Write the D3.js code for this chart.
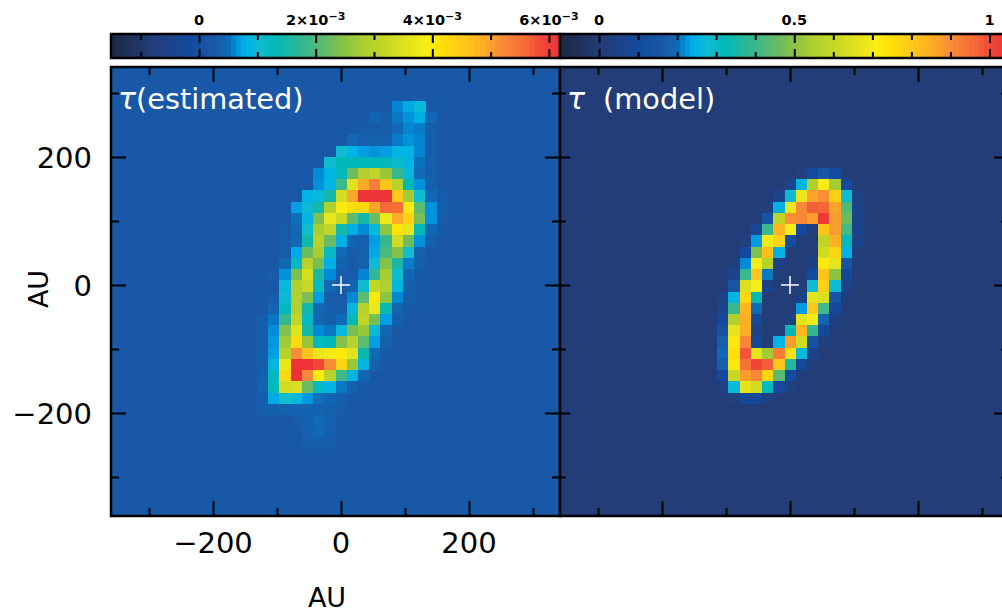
<!DOCTYPE html>
<html>
<head>
<meta charset="utf-8">
<script src="https://cdn.jsdelivr.net/npm/d3@7"></script>
<style>
body { margin: 0; background: #fff; }
svg { display: block; }
text { font-family: "DejaVu Sans", sans-serif; }
.cell { shape-rendering: crispEdges; }
.axis path { display: none; }
.axis line { stroke: #000; stroke-width: 2; }
.big { font-size: 29px; fill: #000; }
.bar-label { font-size: 14.5px; font-weight: bold; fill: #000; }
.title { font-size: 28.8px; fill: #fff; }
</style>
</head>
<body>
<svg id="chart" width="1002" height="614"></svg>
<script>
// tick marks in AU
const majorTicks = [-200, 0, 200];
const minorTicks = [-300, -100, 100, 300];

// tau (estimated), units of 1e-3. first row and first column of every row listed below
const estBackground = 0.18;
const estFirstRow = 3;
const estStartCol = [25, 23, 22, 21, 20, 19, 18, 18, 17, 16, 16, 15, 15, 15, 15, 14, 15, 14, 14, 13, 13, 13, 13, 13, 13, 13, 13, 13, 16, 17, 17];
const estRows = [
  [0.55, 0.7, 0.9],
  [0.35, 0.28, 0.5, 0.6, 0.75, 0.42],
  [0.25, 0.25, 0.27, 0.45, 0.55, 0.52, 0.28],
  [0.4, 0.3, 0.3, 0.3, 0.52, 0.6, 0.55, 0.28],
  [1.0, 0.8, 0.65, 0.6, 0.65, 0.8, 0.8, 0.55, 0.27],
  [1.0, 1.25, 1.25, 1.25, 1.25, 1.25, 1.1, 0.8, 0.48, 0.27],
  [0.57, 0.8, 1.2, 2.2, 2.85, 3.05, 2.6, 1.75, 0.9, 0.45, 0.27],
  [0.6, 0.8, 1.8, 3.5, 4.85, 5.3, 4.5, 2.95, 1.3, 0.6, 0.3],
  [0.8, 0.9, 1.45, 3.3, 4.9, 6.1, 6.1, 6.1, 4.5, 2.7, 1.0, 0.42, 0.25],
  [0.65, 0.95, 1.45, 2.85, 3.95, 4.2, 4.25, 4.9, 5.55, 5.5, 4.0, 2.05, 0.6, 0.27],
  [0.47, 0.85, 2.35, 3.6, 3.2, 2.05, 1.45, 2.2, 3.7, 4.85, 4.35, 2.3, 0.6, 0.25],
  [0.25, 0.42, 1.0, 2.75, 3.05, 1.45, 0.75, 0.57, 0.9, 2.5, 4.05, 3.6, 1.3, 0.42, 0.22],
  [0.25, 0.44, 1.4, 2.95, 2.15, 0.75, 0.38, 0.3, 0.65, 1.75, 3.3, 2.2, 0.6, 0.3],
  [0.25, 0.7, 2.2, 2.75, 1.15, 0.42, 0.25, 0.3, 0.7, 1.9, 2.4, 1.0, 0.3],
  [0.42, 1.2, 2.95, 2.3, 0.75, 0.32, 0.22, 0.3, 0.95, 2.4, 1.5, 0.52, 0.27],
  [0.25, 0.6, 2.35, 3.4, 1.5, 0.57, 0.25, 0.25, 0.55, 1.7, 2.75, 1.0, 0.38],
  [0.9, 2.85, 3.2, 1.15, 0.42, 0.25, 0.35, 0.95, 3.1, 2.85, 0.85, 0.3],
  [0.27, 0.95, 2.85, 2.35, 0.65, 0.25, 0.23, 0.57, 2.05, 4.0, 2.5, 0.57, 0.27],
  [0.38, 1.2, 2.85, 1.45, 0.42, 0.27, 0.25, 0.85, 2.95, 3.65, 1.35, 0.38, 0.22],
  [0.27, 0.5, 1.75, 3.05, 1.15, 0.4, 0.27, 0.45, 1.3, 3.05, 2.3, 0.65, 0.28],
  [0.27, 0.58, 2.4, 3.5, 1.45, 0.57, 0.5, 0.9, 2.3, 2.6, 0.95, 0.4],
  [0.28, 0.62, 2.7, 4.2, 2.6, 1.2, 1.25, 2.4, 2.95, 2.05, 0.65, 0.3],
  [0.28, 0.65, 2.95, 5.15, 4.55, 3.65, 3.8, 3.95, 3.5, 1.35, 0.45, 0.22],
  [0.28, 0.85, 3.65, 6.15, 6.15, 5.8, 5.15, 4.3, 2.6, 0.85, 0.3],
  [0.33, 1.2, 4.25, 6.15, 5.2, 3.95, 2.95, 1.8, 0.85, 0.38],
  [0.35, 1.25, 3.3, 3.4, 2.15, 1.15, 0.85, 0.5, 0.33, 0.22],
  [0.28, 0.7, 1.0, 0.9, 0.62, 0.47, 0.38, 0.27],
  [0.26, 0.3, 0.34, 0.34, 0.35, 0.36, 0.3, 0.25],
  [0.24, 0.3, 0.45, 0.33],
  [0.33, 0.42, 0.3],
  [0.27, 0.28, 0.24]
];

// tau (model)
const modelBackground = 0;
const modelFirstRow = 9;
const modelStartCol = [21, 20, 19, 18, 18, 17, 16, 16, 15, 15, 15, 14, 14, 14, 14, 14, 14, 14, 14, 14, 15];
const modelRows = [
  [0.02, 0.09, 0.15, 0.1],
  [0.05, 0.245, 0.55, 0.71, 0.53, 0.09],
  [0.05, 0.27, 0.67, 0.86, 0.89, 0.78, 0.27, 0.03],
  [0.02, 0.24, 0.67, 0.9, 0.97, 0.96, 0.86, 0.42, 0.05],
  [0.14, 0.58, 0.89, 0.9, 0.87, 1.03, 0.87, 0.45, 0.05],
  [0.07, 0.39, 0.83, 0.69, 0.09, 0.01, 0.8, 0.87, 0.4, 0.05],
  [0.02, 0.22, 0.69, 0.77, 0.11, 0, 0, 0.58, 0.84, 0.31, 0.04],
  [0.09, 0.48, 0.81, 0.24, 0, 0, 0, 0.62, 0.76, 0.24, 0.01],
  [0.02, 0.21, 0.7, 0.56, 0.03, 0, 0, 0.03, 0.72, 0.66, 0.14],
  [0.05, 0.39, 0.8, 0.2, 0, 0, 0, 0.1, 0.8, 0.5, 0.08],
  [0.14, 0.64, 0.7, 0.04, 0, 0, 0, 0.27, 0.78, 0.27, 0.04],
  [0.03, 0.245, 0.76, 0.32, 0, 0, 0, 0.03, 0.66, 0.64, 0.14, 0.01],
  [0.05, 0.39, 0.83, 0.19, 0, 0, 0, 0.22, 0.8, 0.4, 0.08],
  [0.09, 0.55, 0.84, 0.08, 0, 0, 0.02, 0.66, 0.69, 0.18, 0.03],
  [0.13, 0.66, 0.84, 0.04, 0, 0, 0.32, 0.83, 0.38, 0.08],
  [0.17, 0.72, 0.9, 0.07, 0.01, 0.245, 0.87, 0.62, 0.13, 0.02],
  [0.19, 0.74, 0.98, 0.66, 0.53, 0.92, 0.74, 0.26, 0.04],
  [0.17, 0.72, 0.94, 1.0, 0.97, 0.8, 0.36, 0.08],
  [0.09, 0.6, 0.87, 0.9, 0.77, 0.43, 0.1, 0.01],
  [0.03, 0.26, 0.66, 0.62, 0.3, 0.09, 0.02],
  [0.02, 0.08, 0.08, 0.03]
];

// colorbars
const estBarDomain = [-1.51, 6.19];
const estBarMajor = [0, 2, 4, 6];
const estBarMinor = [-1, 1, 3, 5];
const modelBarDomain = [-0.1, 1.05];
const modelBarMajor = [0, 0.5, 1];
const modelBarMinor = [0.1, 0.2, 0.3, 0.4, 0.6, 0.7, 0.8, 0.9];

const paletteAt = [0, 0.087, 0.17, 0.22, 0.255, 0.27, 0.285, 0.3, 0.325, 0.36, 0.43, 0.48, 0.52, 0.56, 0.61, 0.66, 0.7, 0.73, 0.78, 0.83, 0.87, 0.92, 0.95, 1];
const paletteColors = ["#1c2848", "#233d78", "#134a9f", "#1858a6", "#106ab6", "#008ad6", "#00a8e8", "#00b4e4", "#10bcd0", "#00b8b8", "#3cb88a", "#6cbc60", "#8cc440", "#aecf30", "#c8d824", "#e5e41c", "#f8ee14", "#ffe008", "#ffc818", "#fca828", "#f88838", "#f46838", "#f04838", "#ee3038"];

const palette = d3.scaleLinear().domain(paletteAt).range(paletteColors).clamp(true);

const svg = d3.select("#chart");
const panelW = 449, panelH = 449, panelY = 67;
const nCells = 40;

function drawPanel(left, background, firstRow, startCols, rows, barDomain, leftMajor, leftMinor) {
  const x = d3.scaleLinear().domain([-359.4, 342.2]).range([left, left + panelW]);
  const y = d3.scaleLinear().domain([340.6, -361]).range([panelY, panelY + panelH]);
  const colX = d3.scaleBand().domain(d3.range(nCells)).range([left, left + panelW]);
  const rowY = d3.scaleBand().domain(d3.range(nCells)).range([panelY, panelY + panelH]);
  const color = d3.scaleLinear().domain(barDomain).range([0, 1]);

  svg.append("rect").attr("class", "cell")
    .attr("x", left).attr("y", panelY).attr("width", panelW).attr("height", panelH)
    .attr("fill", palette(color(background)));

  const cells = [];
  rows.forEach((r, i) => r.forEach((v, j) => cells.push({ row: firstRow + i, col: startCols[i] + j, v })));

  svg.append("g").selectAll("rect").data(cells).enter().append("rect")
    .attr("class", "cell")
    .attr("x", d => colX(d.col))
    .attr("y", d => rowY(d.row))
    .attr("width", colX.bandwidth() + 0.5)
    .attr("height", rowY.bandwidth() + 0.5)
    .attr("fill", d => palette(color(d.v)));

  // white cross at the star
  const cross = svg.append("g").attr("stroke", "#fff").attr("stroke-width", 1.5);
  cross.append("line").attr("x1", x(0) - 9).attr("x2", x(0) + 9).attr("y1", y(0)).attr("y2", y(0));
  cross.append("line").attr("x1", x(0)).attr("x2", x(0)).attr("y1", y(0) - 9).attr("y2", y(0) + 9);

  // inward ticks on all four sides
  [[majorTicks, 15, leftMajor], [minorTicks, 8, leftMinor]].forEach(([vals, len, leftLen]) => {
    svg.append("g").attr("class", "axis").attr("transform", `translate(0,${panelY + panelH})`)
      .call(d3.axisBottom(x).tickValues(vals).tickSize(-len).tickFormat(""));
    svg.append("g").attr("class", "axis").attr("transform", `translate(0,${panelY})`)
      .call(d3.axisTop(x).tickValues(vals).tickSize(-len).tickFormat(""));
    svg.append("g").attr("class", "axis").attr("transform", `translate(${left},0)`)
      .call(d3.axisLeft(y).tickValues(vals).tickSize(-leftLen).tickFormat(""));
    svg.append("g").attr("class", "axis").attr("transform", `translate(${left + panelW},0)`)
      .call(d3.axisRight(y).tickValues(vals).tickSize(-len).tickFormat(""));
  });

  svg.append("rect").attr("x", left).attr("y", panelY).attr("width", panelW).attr("height", panelH)
    .attr("fill", "none").attr("stroke", "#000").attr("stroke-width", 2.5);

  return { x, y };
}

function drawBar(left, domain, major, minor) {
  const top = 34, h = 24;
  const x = d3.scaleLinear().domain(domain).range([left, left + panelW]);
  const steps = d3.range(0, 1, 1 / 90);
  svg.append("g").selectAll("rect").data(steps).enter().append("rect")
    .attr("class", "cell")
    .attr("x", d => left + d * panelW)
    .attr("y", top)
    .attr("width", panelW / 90 + 0.5)
    .attr("height", h)
    .attr("fill", d => palette(d));
  [[major, 9], [minor, 6]].forEach(([vals, len]) => {
    svg.append("g").attr("class", "axis").attr("transform", `translate(0,${top})`)
      .call(d3.axisTop(x).tickValues(vals).tickSize(-len).tickFormat(""));
    svg.append("g").attr("class", "axis").attr("transform", `translate(0,${top + h})`)
      .call(d3.axisBottom(x).tickValues(vals).tickSize(-len).tickFormat(""));
  });
  svg.append("rect").attr("x", left).attr("y", top).attr("width", panelW).attr("height", h)
    .attr("fill", "none").attr("stroke", "#000").attr("stroke-width", 2.5);
  return x;
}

function barLabel(x, text, sup) {
  const t = svg.append("text").attr("class", "bar-label").attr("x", x).attr("y", 25).attr("text-anchor", "middle").text(text);
  if (sup) t.append("tspan").attr("dy", -5).style("font-size", "11px").text(sup);
}

const estBarX = drawBar(111, estBarDomain, estBarMajor, estBarMinor);
const modelBarX = drawBar(560, modelBarDomain, modelBarMajor, modelBarMinor);
barLabel(estBarX(0), "0");
barLabel(estBarX(2), "2×10", "−3");
barLabel(estBarX(4), "4×10", "−3");
barLabel(estBarX(6), "6×10", "−3");
modelBarMajor.forEach(v => barLabel(modelBarX(v), String(v)));

const est = drawPanel(111, estBackground, estFirstRow, estStartCol, estRows, estBarDomain, 15, 8);
drawPanel(560, modelBackground, modelFirstRow, modelStartCol, modelRows, modelBarDomain, 10, 6);

// tick labels on the left panel only
const fmt = v => String(v).replace("-", "−");
svg.append("g").selectAll("text").data(majorTicks).enter().append("text")
  .attr("class", "big").attr("x", d => est.x(d)).attr("y", 553).attr("text-anchor", "middle").text(fmt);
svg.append("g").selectAll("text").data(majorTicks).enter().append("text")
  .attr("class", "big").attr("x", 92).attr("y", d => est.y(d) + 11).attr("text-anchor", "end").text(fmt);

svg.append("text").attr("class", "big").attr("x", 327).attr("y", 607).attr("text-anchor", "middle").style("font-size", "27px").text("AU");
svg.append("text").attr("class", "big").attr("transform", "translate(48,289) rotate(-90)").attr("text-anchor", "middle").style("font-size", "27px").text("AU");

function title(x, y, rest, gap) {
  const t = svg.append("text").attr("class", "title").attr("x", x).attr("y", y);
  t.append("tspan").style("font-style", "italic").style("font-size", "30px").text("τ");
  t.append("tspan").attr("dx", gap).text(rest);
}
title(118, 109, "(estimated)", 0);
title(567, 109, "(model)", 18);
</script>
</body>
</html>
